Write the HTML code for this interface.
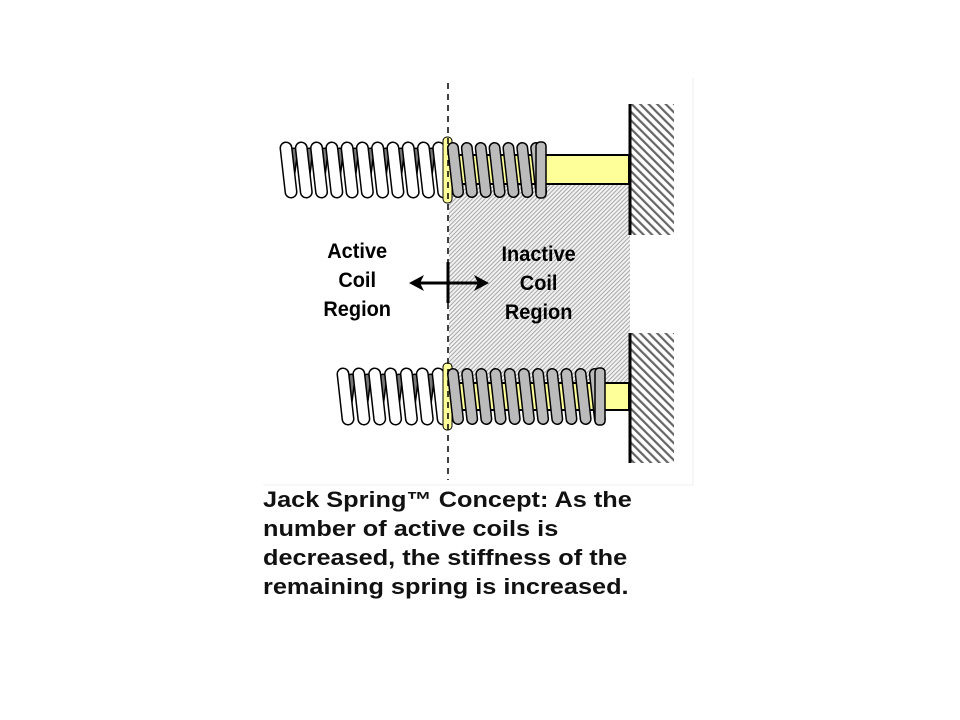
<!DOCTYPE html>
<html><head><style>
html,body{margin:0;padding:0;background:#fff;width:960px;height:720px;overflow:hidden}
.cap{position:absolute;left:263px;top:485px;font:bold 22px/29px "Liberation Sans",sans-serif;color:#111;white-space:nowrap;transform:scaleX(1.15);transform-origin:0 0}
</style></head><body>
<svg id="s" width="960" height="720" style="position:absolute;left:0;top:0" xmlns="http://www.w3.org/2000/svg">
<defs>
<pattern id="h1" width="3" height="3" patternUnits="userSpaceOnUse" patternTransform="rotate(45)">
<rect width="3" height="3" fill="#f2f2f2"/><rect width="1" height="3" fill="#a8a8a8"/></pattern>
<pattern id="h2" width="6" height="6" patternUnits="userSpaceOnUse" patternTransform="rotate(-45)">
<rect width="6" height="6" fill="#fff"/><rect width="2.2" height="6" fill="#666"/></pattern>
</defs>
<line x1="693" y1="78" x2="693" y2="485" stroke="#eee"/>
<line x1="263" y1="485" x2="693" y2="485" stroke="#f2f2f2"/>
<rect x="449" y="184" width="181" height="199" fill="url(#h1)"/>
<rect x="631" y="104" width="43" height="131" fill="url(#h2)"/>
<rect x="631" y="333" width="43" height="130" fill="url(#h2)"/>
<line x1="630" y1="104" x2="630" y2="235" stroke="#000" stroke-width="3"/>
<line x1="630" y1="333" x2="630" y2="463" stroke="#000" stroke-width="3"/>
<g id="springs"></g>
<line x1="448" y1="83" x2="448" y2="480" stroke="#000" stroke-width="1.5" stroke-dasharray="6,5"/>
<g font-family="Liberation Sans, sans-serif" font-weight="bold" font-size="21" text-anchor="middle" fill="#000" transform="scale(0.95,1)">
<text x="376" y="258">Active</text><text x="376" y="287">Coil</text><text x="376" y="316">Region</text>
<text x="567" y="261">Inactive</text><text x="567" y="290">Coil</text><text x="567" y="319">Region</text>
</g>
<line x1="418" y1="283" x2="480" y2="283" stroke="#000" stroke-width="3"/>
<polygon points="409,283 424,275 420,283 424,291" fill="#000"/>
<polygon points="489,283 474,275 478,283 474,291" fill="#000"/>
<line x1="448" y1="262" x2="448" y2="303" stroke="#000" stroke-width="3"/>
</svg>
<div class="cap">Jack Spring™ Concept: As the<br>number of active coils is<br>decreased, the stiffness of the<br>remaining spring is increased.</div>
<script>
var g=document.getElementById('springs'),ns='http://www.w3.org/2000/svg';
function el(t,a){var e=document.createElementNS(ns,t);for(var k in a)e.setAttribute(k,a[k]);g.appendChild(e);return e;}
function spring(x0,xm,x1,top,bot,rodTop,rodBot,nW,nG){
 el('rect',{x:xm-8,y:rodTop,width:630-xm+7,height:rodBot-rodTop,fill:'#ffff99',stroke:'#000','stroke-width':2});
 var pw=(xm-x0)/nW, pg=(x1-xm)/nG;
 for(var i=0;i<nW;i++){var x=x0+i*pw;
  el('line',{x1:x+pw*0.9,y1:top+10,x2:x+pw*0.6,y2:bot-10,stroke:'#000','stroke-width':9,'stroke-linecap':'round'});
  el('line',{x1:x+pw*0.9,y1:top+10,x2:x+pw*0.6,y2:bot-10,stroke:'#777','stroke-width':6,'stroke-linecap':'round'});}
 for(var i=0;i<nW;i++){var x=x0+i*pw+6;
  el('line',{x1:x,y1:top+6,x2:x+5,y2:bot-6,stroke:'#000','stroke-width':13,'stroke-linecap':'round'});
  el('line',{x1:x,y1:top+6,x2:x+5,y2:bot-6,stroke:'#fff','stroke-width':10,'stroke-linecap':'round'});}
 el('rect',{x:xm-5,y:top-5,width:9,height:bot-top+10,rx:4,fill:'#ffff99',stroke:'#000','stroke-width':1});
 for(var i=0;i<nG;i++){var x=xm+i*pg+5;
  el('line',{x1:x,y1:top+6,x2:x+5,y2:bot-6,stroke:'#000','stroke-width':12,'stroke-linecap':'round'});
  el('line',{x1:x,y1:top+6,x2:x+5,y2:bot-6,stroke:'#bbb','stroke-width':9,'stroke-linecap':'round'});}
 el('rect',{x:x1-9,y:top,width:10,height:bot-top,rx:4,fill:'#bbb',stroke:'#000','stroke-width':1.5});
}
spring(280,448,545,142,198,155,184,11,7);
spring(337,448,604,368,425,383,410,7,11);
</script>
</body></html>
